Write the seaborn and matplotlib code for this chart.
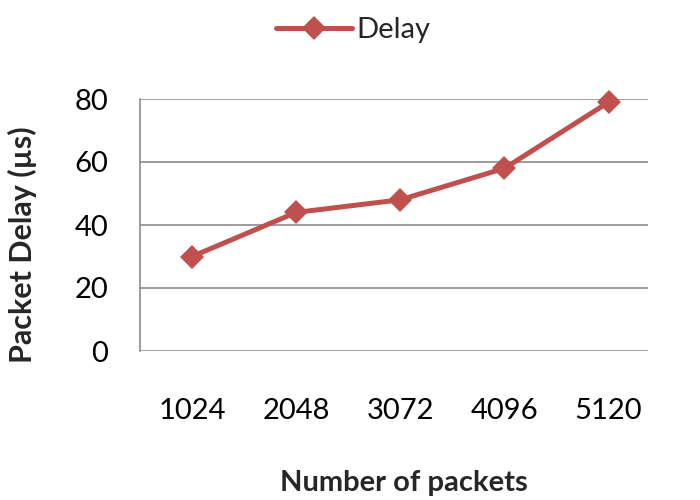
import matplotlib
matplotlib.use("Agg")
import matplotlib.pyplot as plt
import seaborn as sns

# --- data ---
packets = ["1024", "2048", "3072", "4096", "5120"]
delay = [30, 44, 48, 58, 79]
y_ticks = [0, 20, 40, 60, 80]

sns.set_theme(style="white")
plt.rcParams['font.family'] = ['Lato', 'DejaVu Sans']

fig = plt.figure(figsize=(7, 5), dpi=100)
ax = fig.add_axes([0.2, 0.298, 0.726, 0.504])

pos = list(range(len(packets)))
sns.lineplot(x=pos, y=delay, ax=ax, color="#C0504D", linewidth=3.6,
             marker="D", markersize=12, markeredgewidth=0, label="Delay")
for ln in ax.lines:
    ln.set_clip_on(False)

ax.set_xlim(-0.5, 4.38)
ax.set_ylim(0, 80)
ax.set_yticks(y_ticks)
ax.set_xticks(pos)
ax.set_xticklabels(packets)
ax.grid(axis="y", color="#8c8c8c", linewidth=1.2)
ax.set_axisbelow(True)
for s in ["top", "right", "bottom"]:
    ax.spines[s].set_visible(False)
ax.spines["left"].set_color("#8c8c8c")
ax.spines["left"].set_linewidth(1.2)
ax.tick_params(axis="both", labelsize=21, length=0, colors="black")
ax.tick_params(axis="x", pad=34)
ax.tick_params(axis="y", pad=23)

ax.set_xlabel("Number of packets", fontsize=21, fontweight="bold")
ax.xaxis.set_label_coords(0.52, -0.525)
ax.xaxis.label.set_va("center")
ax.set_ylabel("Packet Delay (µs)", fontsize=22, fontweight="bold")
ax.yaxis.set_label_coords(-0.232, 0.42)
ax.yaxis.label.set_va("center")

ax.legend(loc="upper center", bbox_to_anchor=(0.505, 1.0), bbox_transform=fig.transFigure,
          frameon=False, fontsize=21, handlelength=2.6, handletextpad=0.15,
          borderaxespad=0.2)

plt.savefig("out.png", dpi=100)
